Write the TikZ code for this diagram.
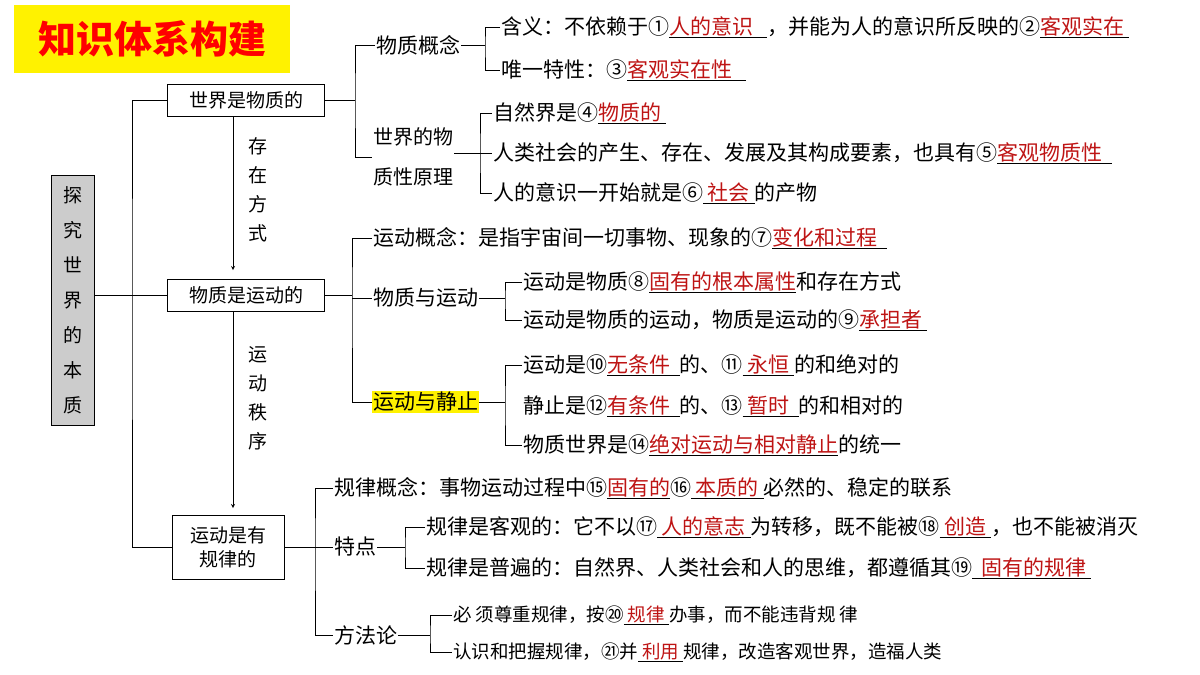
\documentclass[tikz,border=0pt]{standalone}
\usepackage{fontspec}
\setmainfont{Noto Sans CJK SC}
\definecolor{ansred}{RGB}{190,20,20}
\newcommand\ans[1]{\underline{\textcolor{ansred}{#1}}}
\tikzset{
 t/.style={anchor=west,inner sep=1pt,font=\fontsize{21}{24}\selectfont},
 ts/.style={anchor=west,inner sep=1pt,font=\fontsize{18.5}{20}\selectfont},
 bx/.style={draw,thick,inner sep=3pt,font=\fontsize{19}{24}\selectfont,align=center},
 ln/.style={thick}
}
\begin{document}
\begin{tikzpicture}[x=1pt,y=-1pt]
\useasboundingbox (0,0) rectangle (1200,675);
\node[fill=yellow,minimum width=276,minimum height=68,anchor=north west,text=red,font=\fontsize{38}{42}\selectfont\bfseries] (title) at (14,5) {知识体系构建};
\node[draw,thick,fill=gray!40,minimum width=43,minimum height=250,align=center,font=\fontsize{19}{35}\selectfont] (root) at (73,300) {探\\究\\世\\界\\的\\本\\质};
\node[bx,minimum width=157,minimum height=32] (A) at (246,100) {世界是物质的};
\node[bx,minimum width=157,minimum height=32] (B) at (246,295) {物质是运动的};
\node[bx,minimum width=112,minimum height=64] (C) at (228,547) {运动是有\\规律的};
\coordinate (sp) at (132,295);
\draw[ln] (root.east |- sp) -- (sp);
\draw[ln] (A.west) -| (sp) |- (C.west);
\draw[ln] (sp) -- (B.west);
\draw[thick,-stealth] (233,117) -- (233,270);
\draw[thick,-stealth] (233,311) -- (233,508);
\node[align=center,font=\fontsize{19}{29}\selectfont] (l1) at (258,190) {存\\在\\方\\式};
\node[align=center,font=\fontsize{19}{29}\selectfont] (l2) at (258,398) {运\\动\\秩\\序};
% A branch
\node[t] (A1) at (375,45) {物质概念};
\node[t,align=left,font=\fontsize{20}{40}\selectfont] (A2) at (372,157) {世界的物\\质性原理};
\draw[ln] (A.east) -- (355,100);
\draw[ln] (A1.west) -| (355,100) |- (A2.west);
\node[t] (A11) at (500,27) {含义：不依赖于①\ans{人的意识\ \ \ }，并能为人的意识所反映的②\ans{客观实在\ }};
\node[t] (A12) at (500,70) {唯一特性：③\ans{客观实在性\ \ \ }};
\draw[ln] (A1.east) -- (485,45);
\draw[ln] (A11.west) -| (485,45) |- (A12.west);
\node[t] (A21) at (492,113) {自然界是④\ans{物质的\ }};
\node[t] (A22) at (492,153) {人类社会的产生、存在、发展及其构成要素，也具有⑤\ans{客观物质性\ \ }};
\node[t] (A23) at (492,193) {人的意识一开始就是⑥\ans{\ 社会\ }的产物};
\draw[ln] (A21.west) -| (480,153) |- (A23.west);
\draw[ln] (A2.east |- A22.west) -- (A22.west);
% B branch
\node[t] (B1) at (372,238) {运动概念：是指宇宙间一切事物、现象的⑦\ans{变化和过程\ \ }};
\node[t] (B2) at (372,298) {物质与运动};
\node[t,fill=yellow] (B3) at (372,402) {运动与静止};
\draw[ln] (B.east) -- (352,295);
\draw[ln] (B1.west) -| (352,295) |- (B3.west);
\draw[ln] (352,298) -- (B2.west);
\node[t] (B21) at (522,282) {运动是物质⑧\ans{固有的根本属性}和存在方式};
\node[t] (B22) at (522,320) {运动是物质的运动，物质是运动的⑨\ans{承担者\ }};
\draw[ln] (B2.east) -- (505,298);
\draw[ln] (B21.west) -| (505,298) |- (B22.west);
\node[t] (B31) at (522,365) {运动是⑩\ans{无条件\ \ }的、⑪\ans{\ 永恒\ }的和绝对的};
\node[t] (B32) at (522,406) {静止是⑫\ans{有条件\ \ }的、⑬\ans{\ 暂时\ \ }的和相对的};
\node[t] (B33) at (522,445) {物质世界是⑭\ans{绝对运动与相对静止}的统一};
\draw[ln] (B3.east) -- (505,402);
\draw[ln] (B31.west) -| (505,406) |- (B33.west);
% C branch
\node[t] (C1) at (333,488) {规律概念：事物运动过程中⑮\ans{固有的}⑯\ans{\ 本质的\ }必然的、稳定的联系};
\node[t] (C2) at (333,547) {特点};
\node[t] (C3) at (333,635) {方法论};
\draw[ln] (C.east) -- (315,547);
\draw[ln] (C1.west) -| (315,547) |- (C3.west);
\draw[ln] (315,547) -- (C2.west);
\node[t] (C21) at (425,527) {规律是客观的：它不以⑰\ans{\ 人的意志\ }为转移，既不能被⑱\ans{\ 创造\ }，也不能被消灭};
\node[t] (C22) at (425,568) {规律是普遍的：自然界、人类社会和人的思维，都遵循其⑲\ans{\ \ 固有的规律\ }};
\draw[ln] (C2.east) -- (405,547);
\draw[ln] (C21.west) -| (405,547) |- (C22.west);
\node[ts] (C31) at (452,615) {必 须尊重规律，按⑳\ans{\ 规律\ }办事，而不能违背规 律};
\node[ts] (C32) at (452,652) {认识和把握规律，㉑并\ans{\ 利用\ }规律，改造客观世界，造福人类};
\draw[ln] (C3.east) -- (430,635);
\draw[ln] (C31.west) -| (430,635) |- (C32.west);
\end{tikzpicture}
\end{document}
